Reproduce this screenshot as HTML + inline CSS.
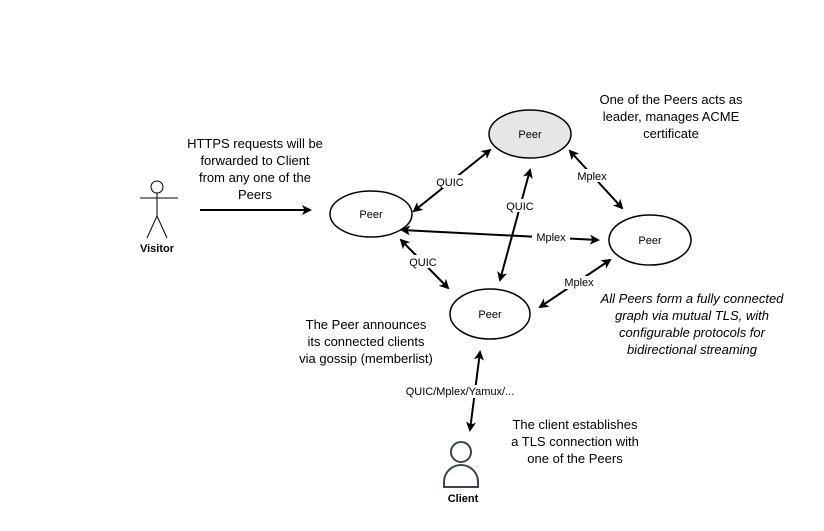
<!DOCTYPE html>
<html><head><meta charset="utf-8"><style>html,body{margin:0;padding:0;background:#fff}</style></head>
<body>
<svg width="824" height="526" viewBox="0 0 824 526" xmlns="http://www.w3.org/2000/svg" font-family="Liberation Sans, Arial, sans-serif">
<defs>
<marker id="a" markerWidth="10" markerHeight="10" refX="8" refY="5" orient="auto-start-reverse" markerUnits="userSpaceOnUse"><path d="M0,0 L10,5 L0,10 L2.5,5 Z" fill="#000"/></marker>
</defs>
<g stroke="#000" stroke-width="2" fill="none">
<line x1="200" y1="210" x2="310" y2="210" marker-end="url(#a)"/>
<line x1="414" y1="211" x2="490" y2="150" marker-start="url(#a)" marker-end="url(#a)"/>
<line x1="570" y1="151" x2="622" y2="208" marker-start="url(#a)" marker-end="url(#a)"/>
<line x1="530" y1="170" x2="500" y2="280" marker-start="url(#a)" marker-end="url(#a)"/>
<line x1="402" y1="230" x2="598" y2="240" marker-start="url(#a)" marker-end="url(#a)"/>
<line x1="401" y1="240" x2="448" y2="288" marker-start="url(#a)" marker-end="url(#a)"/>
<line x1="540" y1="307" x2="610" y2="260" marker-start="url(#a)" marker-end="url(#a)"/>
<line x1="480" y1="352" x2="470" y2="430" marker-start="url(#a)" marker-end="url(#a)"/>
</g>
<g stroke="#000" stroke-width="1.5">
<ellipse cx="530" cy="134" rx="41" ry="24" fill="#e6e6e6"/>
<ellipse cx="371" cy="214" rx="41" ry="23" fill="#fff"/>
<ellipse cx="650" cy="240" rx="41" ry="25" fill="#fff"/>
<ellipse cx="490" cy="314" rx="40" ry="25" fill="#fff"/>
</g>
<g font-size="11" text-anchor="middle">
<text x="530" y="138">Peer</text>
<text x="371" y="218">Peer</text>
<text x="650" y="244">Peer</text>
<text x="490" y="318">Peer</text>
</g>
<g font-size="11" text-anchor="middle" font-weight="normal">
<rect x="434" y="175" width="32" height="13" fill="#fff"/><text x="450" y="186">QUIC</text>
<rect x="504" y="199" width="32" height="13" fill="#fff"/><text x="520" y="210">QUIC</text>
<rect x="407" y="255" width="32" height="13" fill="#fff"/><text x="423" y="266">QUIC</text>
<rect x="575" y="169" width="34" height="13" fill="#fff"/><text x="592" y="180">Mplex</text>
<rect x="532" y="231" width="38" height="13" fill="#fff"/><text x="551" y="241">Mplex</text>
<rect x="562" y="276" width="34" height="13" fill="#fff"/><text x="579" y="286">Mplex</text>
<rect x="416" y="385" width="90" height="13" fill="#fff"/><text x="460" y="395">QUIC/Mplex/Yamux/...</text>
</g>
<g stroke="#000" stroke-width="1" fill="none">
<circle cx="157" cy="187" r="6" fill="#fff"/>
<line x1="157" y1="193" x2="157" y2="216"/>
<line x1="140" y1="198" x2="178" y2="198"/>
<line x1="157" y1="216" x2="147" y2="238"/>
<line x1="157" y1="216" x2="167" y2="238"/>
</g>
<text x="157" y="252" font-size="11" text-anchor="middle" font-weight="bold">Visitor</text>
<g stroke="#3a4550" stroke-width="2" fill="#fff">
<circle cx="461" cy="452" r="10"/>
<path d="M444,487 L444,482 A17,17 0 0 1 478,482 L478,487 Z"/>
</g>
<text x="463" y="502" font-size="11" text-anchor="middle" font-weight="bold">Client</text>
<g font-size="13" text-anchor="middle">
<text x="255" y="148">HTTPS requests will be</text>
<text x="255" y="165">forwarded to Client</text>
<text x="255" y="182">from any one of the</text>
<text x="255" y="199">Peers</text>
<text x="671" y="104">One of the Peers acts as</text>
<text x="671" y="121">leader, manages ACME</text>
<text x="671" y="138">certificate</text>
<text x="366" y="329">The Peer announces</text>
<text x="366" y="346">its connected clients</text>
<text x="366" y="363">via gossip (memberlist)</text>
<text x="575" y="429">The client establishes</text>
<text x="575" y="446">a TLS connection with</text>
<text x="575" y="463">one of the Peers</text>
</g>
<g font-size="13" text-anchor="middle" font-style="italic">
<text x="692" y="303">All Peers form a fully connected</text>
<text x="692" y="320">graph via mutual TLS, with</text>
<text x="692" y="337">configurable protocols for</text>
<text x="692" y="354">bidirectional streaming</text>
</g>
</svg>
</body></html>
